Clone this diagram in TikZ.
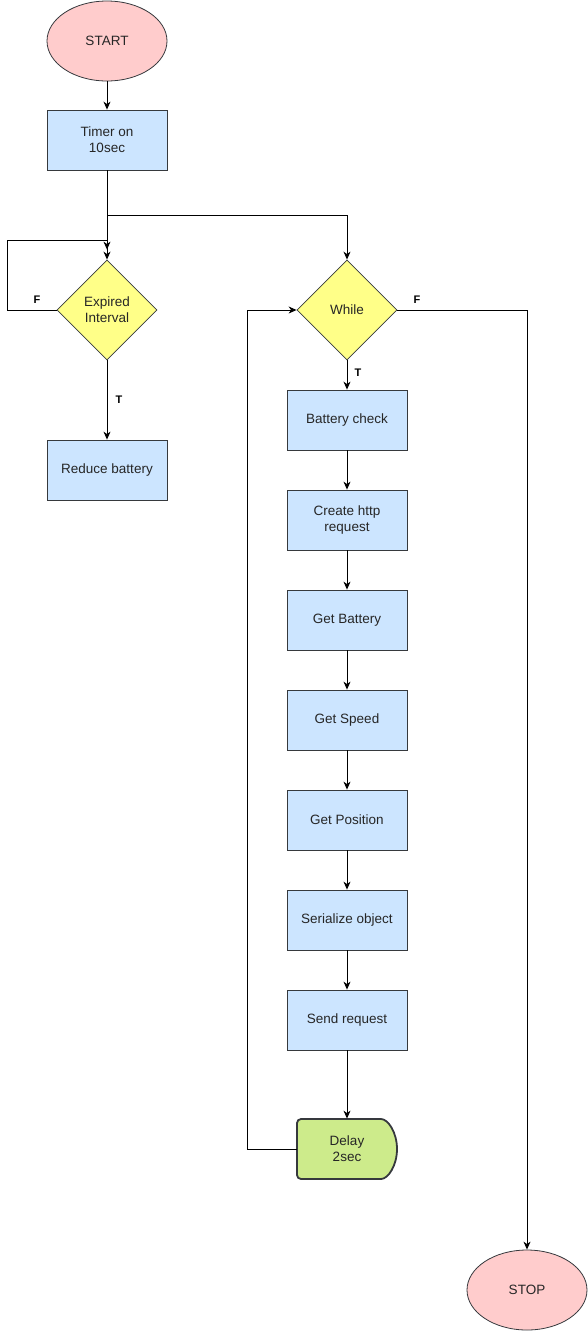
\documentclass[tikz,border=0pt]{standalone}
\usepackage{fontspec}
\setmainfont{Liberation Sans}
\usepackage{xcolor}
\usetikzlibrary{arrows.meta, shapes.geometric, calc}
\definecolor{termred}{HTML}{FFCCCC}
\definecolor{procblue}{HTML}{CCE5FF}
\definecolor{condyellow}{HTML}{FFFF88}
\definecolor{delaygreen}{HTML}{CDEB8B}
\definecolor{rim}{HTML}{36393D}
\tikzset{
    >={Stealth[length=8pt, width=7pt, inset=2.5pt]},
    every node/.style={font=\fontsize{13.5}{16}\selectfont, text=black!85},
    terminal/.style={ellipse, draw=rim, fill=termred, minimum width=120, minimum height=80, inner sep=0},
    process/.style={rectangle, draw=rim, fill=procblue, minimum width=120, minimum height=60, align=center},
    decision/.style={diamond, aspect=1, draw=rim, fill=condyellow, minimum width=100, minimum height=100, inner sep=0, align=center},
    delayshape/.style={draw=rim, fill=delaygreen, line width=1.8pt, rounded corners=4},
    flow/.style={->, line width=1pt},
    flag/.style={font=\bfseries\fontsize{11}{13}\selectfont, text=black, inner sep=0},
}
\begin{document}
\begin{tikzpicture}[x=1pt, y=-1pt, line width=0.8pt]
        \useasboundingbox (0,0) rectangle (588,1331);
        \node[terminal] (start) at (107,41) {START};
        \node[process] (timer) at (107,140) {Timer on\\10sec};
        \node[decision] (expired) at (107,310) {Expired\\Interval};
        \node[process] (reduce) at (107,470) {Reduce battery};
        \node[decision] (while) at (347,310) {While};
        \foreach \txt [count=\i, evaluate={\y=420+100*(\i-1)}] in {Battery check, {Create http\\request}, Get Battery, Get Speed, Get Position, Serialize object, Send request} {
            \node[process] (b\i) at (347,\y) {\txt};
        };
        % delay block: flat left side, half ellipse on the right
        \filldraw[delayshape] (297,1149) -- (297,1119) -- (377,1119)
            arc[start angle=-90, end angle=90, x radius=20, y radius=30] -- (297,1179) -- cycle;
        \node[minimum width=100, minimum height=60, align=center] (delay) at (347,1149) {Delay\\2sec};
        \node[terminal] (stop) at (527,1290) {STOP};
        \coordinate (split) at (107,215);
        \draw[flow] (start) -- (timer);
        \draw[flow] (timer) -- (expired);
        \draw[flow] (split) -| (while.north);
        \draw[flow] (expired.west) -| (7,240) -| ($(expired.north)+(0,-10)$);
        \node[flag] (fexp) at (37,300) {F};
        \draw[flow] (expired) -- (reduce) node[flag, midway, right=8pt] {T};
        \draw[flow] (while) -- (b1) node[flag, midway, right=7pt, yshift=2pt] {T};
        \draw[flow] (while.east) -| (stop.north);
        \node[flag] (fwhile) at (417,300) {F};
        \foreach \a/\b in {b1/b2, b2/b3, b3/b4, b4/b5, b5/b6, b6/b7, b7/delay} \draw[flow] (\a) -- (\b);
        \draw[flow] (delay.west) -| (247,310) -- (while.west);
    \end{tikzpicture}
\end{document}
